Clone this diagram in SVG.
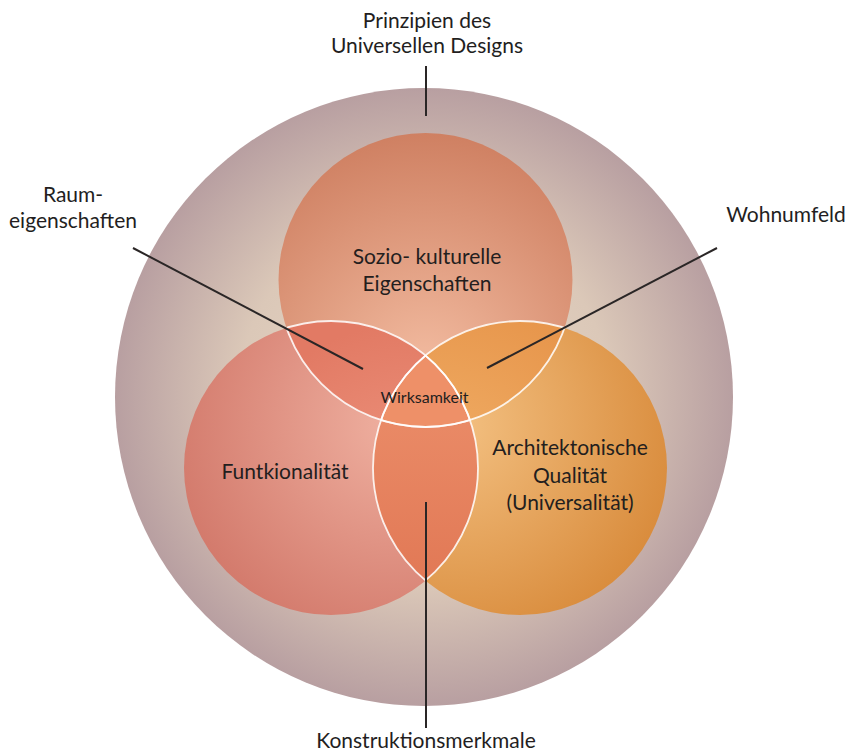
<svg xmlns="http://www.w3.org/2000/svg" width="849" height="753" viewBox="0 0 849 753">
<defs>
<style>
.lbl{font-family:Lato,"Liberation Sans",sans-serif;font-size:21px;fill:#231e1e;text-anchor:middle}
.small{font-size:16px}
.ln{stroke:#2a2626;stroke-width:2;fill:none}
.rim{fill:none;stroke:#ffffff;stroke-width:1.8;stroke-opacity:0.85}
</style>
<radialGradient id="gBig" cx="50%" cy="50%" r="50%">
<stop offset="0" stop-color="#e8d8c6"/>
<stop offset="0.6" stop-color="#dbc8b8"/>
<stop offset="1" stop-color="#b89fa1"/>
</radialGradient>
<radialGradient id="gTop" cx="50%" cy="80%" r="80%">
<stop offset="0" stop-color="#f2bba0"/>
<stop offset="1" stop-color="#cf8062"/>
</radialGradient>
<radialGradient id="gLeft" cx="72%" cy="35%" r="80%">
<stop offset="0" stop-color="#efb0a0"/>
<stop offset="1" stop-color="#d2786a"/>
</radialGradient>
<radialGradient id="gRight" cx="28%" cy="35%" r="80%">
<stop offset="0" stop-color="#f3c081"/>
<stop offset="1" stop-color="#d88a3a"/>
</radialGradient>
<radialGradient id="gTL" cx="80%" cy="70%" r="70%">
<stop offset="0" stop-color="#f09a84"/>
<stop offset="1" stop-color="#e27a64"/>
</radialGradient>
<radialGradient id="gTR" cx="20%" cy="60%" r="70%">
<stop offset="0" stop-color="#f2b26a"/>
<stop offset="1" stop-color="#e7964c"/>
</radialGradient>
<linearGradient id="gLR" x1="0" y1="0" x2="0" y2="1">
<stop offset="0" stop-color="#ee9470"/>
<stop offset="1" stop-color="#e07552"/>
</linearGradient>
<clipPath id="cT"><circle cx="425.5" cy="280" r="147"/></clipPath>
<clipPath id="cL"><circle cx="331" cy="468" r="147"/></clipPath>
<clipPath id="cR"><circle cx="520" cy="468" r="147"/></clipPath>
</defs>

<g id="outer">
<circle cx="424" cy="397" r="309" fill="url(#gBig)"/>
</g>

<g id="top-circle">
<circle cx="425.5" cy="280" r="147" fill="url(#gTop)"/>
</g>
<g id="left-circle">
<circle cx="331" cy="468" r="147" fill="url(#gLeft)"/>
</g>
<g id="right-circle">
<circle cx="520" cy="468" r="147" fill="url(#gRight)"/>
</g>

<g id="overlaps">
<g clip-path="url(#cT)"><circle cx="331" cy="468" r="147" fill="url(#gTL)"/></g>
<g clip-path="url(#cT)"><circle cx="520" cy="468" r="147" fill="url(#gTR)"/></g>
<g clip-path="url(#cL)"><circle cx="520" cy="468" r="147" fill="url(#gLR)"/></g>
<g clip-path="url(#cL)"><g clip-path="url(#cR)"><circle cx="425.5" cy="280" r="147" fill="#ee9068"/></g></g>
</g>

<g id="rims">
<g clip-path="url(#cL)"><circle class="rim" cx="425.5" cy="280" r="147"/></g>
<g clip-path="url(#cR)"><circle class="rim" cx="425.5" cy="280" r="147"/></g>
<g clip-path="url(#cT)"><circle class="rim" cx="331" cy="468" r="147"/></g>
<g clip-path="url(#cR)"><circle class="rim" cx="331" cy="468" r="147"/></g>
<g clip-path="url(#cT)"><circle class="rim" cx="520" cy="468" r="147"/></g>
<g clip-path="url(#cL)"><circle class="rim" cx="520" cy="468" r="147"/></g>
</g>

<g id="connectors">
<line class="ln" x1="426" y1="66" x2="426" y2="116"/>
<line class="ln" x1="133" y1="248" x2="363" y2="369"/>
<line class="ln" x1="717" y1="248" x2="487" y2="368"/>
<line class="ln" x1="426" y1="502" x2="426" y2="728"/>
</g>

<g id="label-prinzipien">
<text class="lbl" x="427" y="28">Prinzipien des</text>
<text class="lbl" x="427" y="53">Universellen Designs</text>
</g>
<g id="label-raum">
<text class="lbl" x="73" y="202">Raum-</text>
<text class="lbl" x="73" y="228">eigenschaften</text>
</g>
<g id="label-wohnumfeld">
<text class="lbl" x="786" y="222">Wohnumfeld</text>
</g>
<g id="label-sozio">
<text class="lbl" x="427" y="264">Sozio- kulturelle</text>
<text class="lbl" x="427" y="291">Eigenschaften</text>
</g>
<g id="label-wirksamkeit">
<text class="lbl small" x="424.5" y="403">Wirksamkeit</text>
</g>
<g id="label-funktionalitaet">
<text class="lbl" x="285" y="479">Funtkionalität</text>
</g>
<g id="label-architektonisch">
<text class="lbl" x="570" y="455">Architektonische</text>
<text class="lbl" x="570" y="483">Qualität</text>
<text class="lbl" x="570" y="510">(Universalität)</text>
</g>
<g id="label-konstruktion">
<text class="lbl" x="426" y="748">Konstruktionsmerkmale</text>
</g>
</svg>
